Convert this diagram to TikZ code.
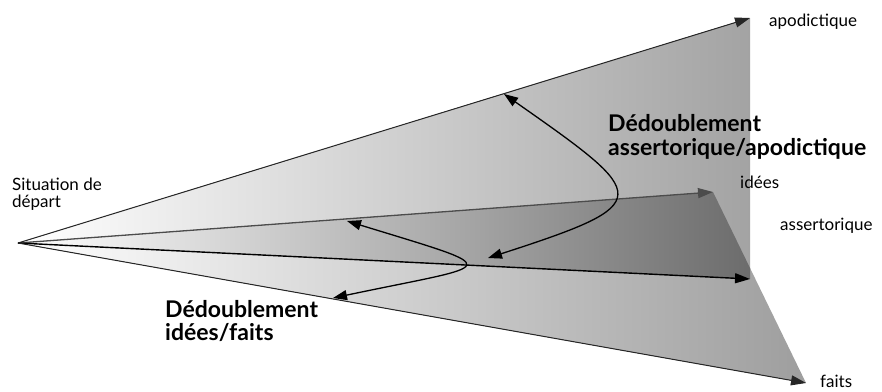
\documentclass[tikz,border=0pt]{standalone}
\usepackage{fontspec}
\setmainfont{Lato}
\usetikzlibrary{arrows.meta}
\begin{document}
\begin{tikzpicture}[x=1pt,y=-1pt,
  tip/.style={-{Triangle[length=15pt,width=10pt]}},
  twotip/.style={{Triangle[length=14pt,width=10pt]}-{Triangle[length=14pt,width=10pt]}},
  lbl/.style={inner sep=0pt,anchor=base west,font=\fontsize{17}{19}\selectfont},
  blbl/.style={inner sep=0pt,anchor=base west,font=\fontsize{23}{25}\selectfont\bfseries}]
\useasboundingbox (0,0) rectangle (882,391);
\coordinate (O) at (18,243);
\coordinate (A) at (750,18);
\coordinate (I) at (713,192);
\coordinate (M) at (750,279);
\coordinate (F) at (806,383);
% layers
\shade[left color=white,right color=black!36] (O) -- (A) -- (M) -- cycle;
\shade[left color=white,right color=black!38] (O) -- (I) -- (F) -- cycle;
\begin{scope}
\clip (O) -- (A) -- (M) -- cycle;
\shade[left color=white,middle color=black!34,right color=black!62] (O) -- (I) -- (F) -- cycle;
\end{scope}
% rays
\draw[tip,line width=1pt,draw=black!85,fill=black!85] (O) -- (A);
\draw[tip,line width=1.3pt,draw=black!70,fill=black!75] (O) -- (I);
\draw[tip,line width=1.4pt,draw=black,fill=black] (O) -- (M);
\draw[tip,line width=1pt,draw=black!85,fill=black] (O) -- (F);
% doubling curves
\coordinate (c1a) at (504,94);
\coordinate (c1b) at (488,258);
\coordinate (c2a) at (347,221);
\coordinate (c2b) at (333,298);
\draw[twotip,line width=1.3pt] (c1a) .. controls (651,197) and (658,203) .. (c1b);
\draw[twotip,line width=1.3pt] (c2a) .. controls (510,271) and (499,263) .. (c2b);
% labels
\node[lbl] (tapo) at (769,26) {apodictique};
\node[lbl] (tide) at (740,188) {idées};
\node[lbl] (tass) at (780,230) {assertorique};
\node[lbl] (tfai) at (820,387) {faits};
\node[lbl] (tsit) at (12,190) {Situation de};
\node[lbl] (tdep) at (12,207) {départ};
\node[blbl] (td1) at (608,131) {Dédoublement};
\node[blbl] (td1b) at (608,155) {assertorique/apodictique};
\node[blbl] (td2) at (165,317) {Dédoublement};
\node[blbl] (td2b) at (165,340) {idées/faits};
\end{tikzpicture}
\end{document}
